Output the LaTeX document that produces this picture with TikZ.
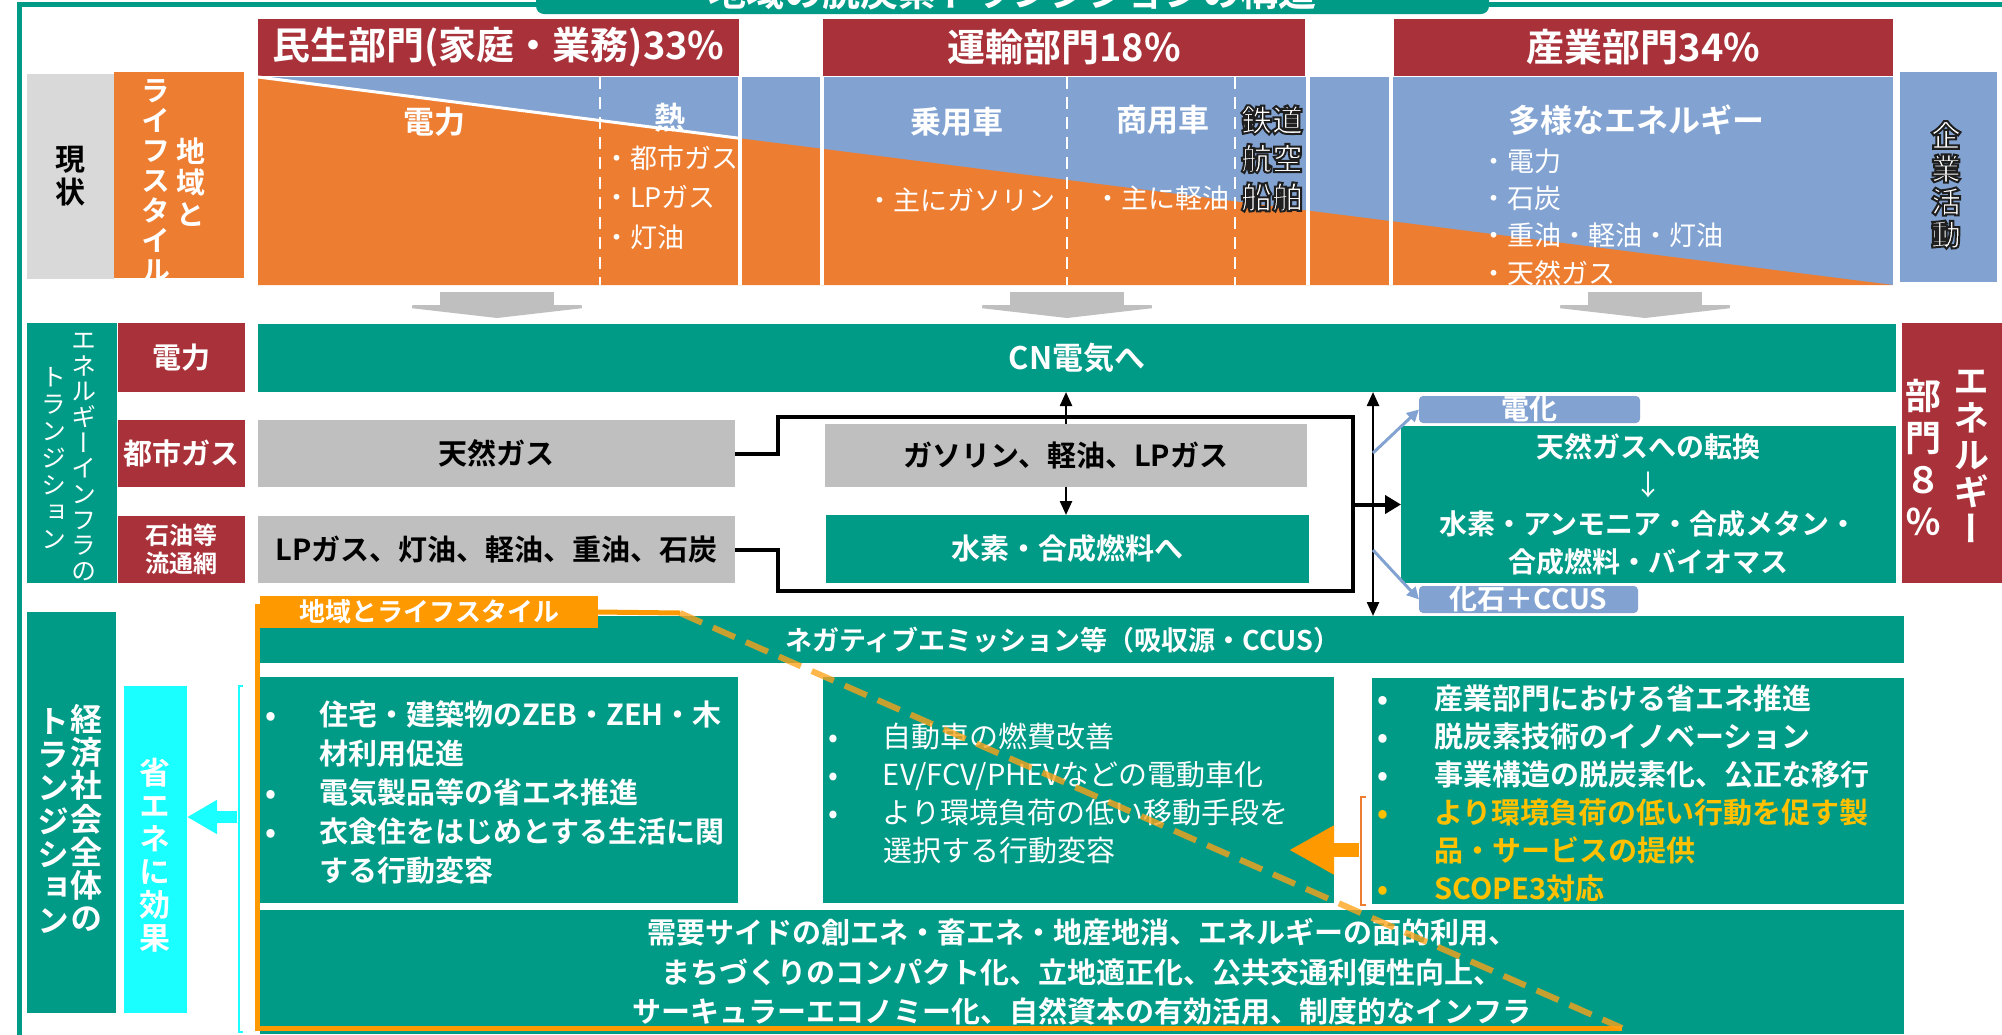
\documentclass[tikz,border=0pt]{standalone}
\usepackage{fontspec}
\setmainfont{Noto Sans CJK JP}[BoldFont={Noto Sans CJK JP Bold}]
\newfontfamily\vjp{Noto Sans CJK JP}[RawFeature={+vert}, BoldFont={Noto Sans CJK JP Bold}]
\usetikzlibrary{arrows.meta}
\definecolor{tealc}{RGB}{0,155,135}
\definecolor{dredc}{RGB}{169,50,58}
\definecolor{orngc}{RGB}{237,125,49}
\definecolor{bluec}{RGB}{130,163,210}
\definecolor{grayc}{RGB}{191,191,191}
\definecolor{lgrayc}{RGB}{217,217,217}
\definecolor{cyanc}{RGB}{26,255,255}
\definecolor{orngb}{RGB}{255,153,0}
\definecolor{yelc}{RGB}{255,192,0}
\definecolor{dashc}{RGB}{255,162,24}
\lineskiplimit=-100pt
\newcommand\fs[2]{\fontsize{#1}{#2}\selectfont}
\newcommand\mybul[1]{\makebox[#1][l]{•}}
\newcommand\mynb[1]{\hspace*{#1}}
\newcommand\ctext[1]{\special{pdf:literal direct 2 Tr 1 w 0.12 0.12 0.12 RG}#1\special{pdf:literal direct 0 Tr}}
\newcommand\bnode[7]{\node[#1,minimum width={(#5-#3)*0.5pt},minimum height={(#6-#4)*0.5pt}] (#2) at ({(#3+#5)/2},{(#4+#6)/2}) {#7};}
\tikzset{
  mybase/.style={inner sep=0pt, outer sep=0pt},
  wt/.style={mybase, text=white},
  vt/.style={wt, align=center},
  hdr/.style={mybase, fill=dredc, text=white, font=\bfseries\fs{19}{21}},
  lgbox/.style={mybase, fill=lgrayc, text=black, align=center, font=\vjp\bfseries\fs{15}{16.5}},
  obox/.style={mybase, fill=orngc},
  bluefill/.style={mybase, fill=bluec},
  tbox/.style={mybase, fill=tealc},
  tboxT/.style={mybase, fill=tealc, text=white, font=\bfseries\fs{14.5}{16}},
  rbox/.style={mybase, fill=dredc, text=white, font=\bfseries\fs{14.5}{16}},
  gbox/.style={mybase, fill=grayc, text=black, font=\bfseries\fs{14.5}{16}},
  bluebox/.style={mybase, fill=bluec, text=white, rounded corners=2pt, font=\bfseries\fs{14}{15}},
  cbox/.style={mybase, fill=cyanc},
  obbox/.style={mybase, fill=orngb, text=white, font=\bfseries\fs{13}{14}},
  garrow/.style={draw=grayc, line width=57pt, -{Triangle[length=6.5pt,width=113pt]}},
  conn/.style={draw=black, line width=2pt},
  thinarr/.style={draw=black, line width=1.2pt},
  barr/.style={draw=bluec, line width=1.5pt, -{Triangle[length=6pt,width=6pt]}},
  hd1/.style={wt, font=\bfseries\fs{15.5}{17}},
  sub/.style={wt, font=\fs{13.5}{15}},
}
\begin{document}
\begin{tikzpicture}[x=0.5pt,y=-0.5pt]
\useasboundingbox (0,0) rectangle (2002,1034);
\clip (0,0) rectangle (2002,1034);
% frame
\draw[tealc, line width=2.5pt] (19,1040) -- (19,4) -- (2010,4);
% title
\node[mybase, fill=tealc, rounded corners=4pt, minimum width=476.5pt, minimum height=22pt, text=white, font=\bfseries\fs{19}{20}] (ttl) at (1012.5,-8) {地域の脱炭素トランジションの構造};
% headers
\bnode{hdr}{h1}{258}{19}{739}{76}{民生部門(家庭・業務)33\%}
\bnode{hdr}{h2}{823}{19}{1305}{76}{運輸部門18\%}
\bnode{hdr}{h3}{1394}{19}{1893}{76}{産業部門34\%}
% row 1 left
\bnode{lgbox}{gen}{27}{74}{114}{279}{現\\状}
\bnode{obox}{ls}{114}{72}{244}{278}{}
\begin{scope}
\clip (114,72) rectangle (244,278);
\node[vt, font=\vjp\bfseries\fs{14.5}{15.75}] (lsA) at (191,182) {地\\域\\と};
\node[vt, font=\vjp\bfseries\fs{14.5}{15}] (lsB) at (156,181) {ラ\\イ\\フ\\ス\\タ\\イ\\ル};
\end{scope}
% wedge
\fill[bluec] (258,77) rectangle (1893,285);
\fill[orngc] (258,77) -- (1893,285) -- (258,285) -- cycle;
\draw[white, line width=1.5pt] (258,77) -- (739,138.2);
\foreach \x in {739.5,822,1307.5,1391} \draw[white, line width=2pt] (\x,77) -- (\x,285);
\foreach \x in {600,1067,1235} \draw[white, line width=1.2pt, dash pattern=on 6pt off 4pt] (\x,77) -- (\x,285);
% row 1 texts
\node[hd1] (t1) at (434,122) {電力};
\node[hd1] (t2) at (670,118) {熱};
\node[sub, anchor=west, align=left, font=\fs{13.5}{19.75}] (t3) at (603,197.5) {・都市ガス\\・LPガス\\・灯油};
\node[hd1] (t4) at (957,122) {乗用車};
\node[sub] (t5) at (961,200) {・主にガソリン};
\node[hd1] (t6) at (1163,120) {商用車};
\node[sub, anchor=west] (t7) at (1094,198) {・主に軽油};
\node[vt, font=\bfseries\fs{15.5}{19.25}] (t8) at (1272,158.5) {\ctext{鉄道}\\\ctext{航空}\\\ctext{船舶}};
\node[wt, font=\bfseries\fs{16}{17}] (t9) at (1636,120) {多様なエネルギー};
\node[sub, anchor=west, align=left, font=\fs{13.5}{18.7}] (t10) at (1480,217) {・電力\\・石炭\\・重油・軽油・灯油\\・天然ガス};
\bnode{bluefill}{kg}{1900}{72}{1997}{282}{}
\node[vt, font=\vjp\bfseries\fs{15}{16.5}] (kgT) at (1946,185) {\ctext{企}\\\ctext{業}\\\ctext{活}\\\ctext{動}};
% gray arrows
\foreach \x [count=\i] in {497,1067,1645} {\coordinate (ga\i) at (\x,292); \coordinate (gb\i) at (\x,318); \draw[garrow] (ga\i) -- (gb\i);}
% row 2
\bnode{tbox}{eit}{27}{323}{117}{583}{}
\node[vt, font=\vjp\fs{12.5}{12.85}] (eitA) at (84,457) {エ\\ネ\\ル\\ギ\\ー\\イ\\ン\\フ\\ラ\\の};
\node[vt, font=\vjp\fs{12.5}{13.5}] (eitB) at (54,458) {ト\\ラ\\ン\\ジ\\シ\\ョ\\ン};
\bnode{rbox}{r1}{118}{323}{245}{392}{電力}
\bnode{rbox}{r2}{118}{420}{245}{487}{都市ガス}
\bnode{rbox, align=center, font=\bfseries\fs{12}{14}}{r3}{118}{516}{245}{583}{石油等\\流通網}
\bnode{tboxT, font=\bfseries\fs{15.5}{17}}{cn}{258}{324}{1896}{392}{CN電気へ}
\bnode{gbox}{ng}{258}{420}{735}{487}{天然ガス}
\bnode{gbox}{lp}{258}{516}{735}{583}{LPガス、灯油、軽油、重油、石炭}
\bnode{gbox}{gas}{825}{424}{1307}{487}{ガソリン、軽油、LPガス}
\bnode{tboxT}{h2}{826}{515}{1309}{583}{水素・合成燃料へ}
\bnode{tboxT, align=center, font=\bfseries\fs{14}{19.2}}{big}{1401}{426}{1896}{583}{天然ガスへの転換\\{\mdseries ↓}\\水素・アンモニア・合成メタン・\\合成燃料・バイオマス}
\bnode{bluebox}{denka}{1419}{396}{1640}{423}{電化}
\bnode{bluebox}{kaseki}{1419}{586}{1638}{613}{化石＋CCUS}
\bnode{rbox}{en8}{1902}{323}{2002}{583}{}
\node[vt, font=\vjp\bfseries\fs{18}{18.5}] (en8A) at (1971,456) {エ\\ネ\\ル\\ギ\\ー};
\node[vt, font=\vjp\bfseries\fs{18}{21}] (en8B) at (1923,457) {部\\門\\８\\％};
% row 3
\bnode{tbox}{ke}{27}{612}{116}{1013}{}
\node[vt, font=\vjp\bfseries\fs{16}{16.6}] (keA) at (86,818) {経\\済\\社\\会\\全\\体\\の};
\node[vt, font=\vjp\bfseries\fs{16}{16.6}] (keB) at (53,821) {ト\\ラ\\ン\\ジ\\シ\\ョ\\ン};
\bnode{cbox}{se}{124}{686}{187}{1013}{}
\node[vt, font=\vjp\bfseries\fs{15.5}{16.5}] (seA) at (155,855) {省\\エ\\ネ\\に\\効\\果};
\bnode{tbox}{neg}{260}{616}{1904}{663}{}
\node[wt, font=\bfseries\fs{13.5}{15}] (negT) at (1063,640) {ネガティブエミッション等（吸収源・CCUS）};
\bnode{tbox}{bL}{260}{677}{738}{903}{}
\node[wt, anchor=west, align=left, font=\bfseries\fs{14.5}{19.4}] (tL) at (265,792.5) {\mybul{27pt}住宅・建築物のZEB・ZEH・木\\\mynb{27pt}材利用促進\\\mybul{27pt}電気製品等の省エネ推進\\\mybul{27pt}衣食住をはじめとする生活に関\\\mynb{27pt}する行動変容};
\bnode{tbox}{bM}{823}{677}{1334}{903}{}
\node[wt, anchor=west, align=left, font=\fs{14.5}{18.9}] (tM) at (828,793.5) {\mybul{27.5pt}自動車の燃費改善\\\mybul{27.5pt}EV/FCV/PHEVなどの電動車化\\\mybul{27.5pt}より環境負荷の低い移動手段を\\\mynb{27.5pt}選択する行動変容};
\bnode{tbox}{bR}{1372}{678}{1904}{904}{}
\node[wt, anchor=west, align=left, font=\bfseries\fs{14.5}{19}] (tR) at (1377,793) {\mybul{28.5pt}産業部門における省エネ推進\\\mybul{28.5pt}脱炭素技術のイノベーション\\\mybul{28.5pt}事業構造の脱炭素化、公正な移行\\{\color{yelc}\mybul{28.5pt}より環境負荷の低い行動を促す製}\\{\color{yelc}\mynb{28.5pt}品・サービスの提供}\\{\color{yelc}\mybul{28.5pt}SCOPE3対応}};
\bnode{tboxT, align=center, font=\bfseries\fs{14.5}{19.75}}{bot}{260}{910}{1904}{1034}{需要サイドの創エネ・畜エネ・地産地消、エネルギーの面的利用、\\まちづくりのコンパクト化、立地適正化、公共交通利便性向上、\\サーキュラーエコノミー化、自然資本の有効活用、制度的なインフラ}
% orange frame and label
\bnode{obbox}{lbl}{260}{596}{598}{628}{地域とライフスタイル}
\coordinate (oc1) at (680,613);
\coordinate (oc2) at (1622,1028);
\coordinate (of1) at (257,604);
\coordinate (of2) at (257,1028);
\draw[orngb, line width=2.5pt] (lbl.east) -- (oc1);
\draw[orngb, line width=2.5pt] (of1) -- (of2) -- (oc2);
% black connectors
\coordinate (cTL) at (778,417);
\coordinate (cTR) at (1353,417);
\coordinate (cBR) at (1353,591);
\coordinate (cBL) at (778,591);
\coordinate (cM) at (1353,504.5);
\coordinate (vx) at (1373,0);
\draw[conn] (ng.east) -| (cTL) -- (cTR) -- (cBR) -- (cBL) |- (lp.east);
\draw[conn, -{Triangle[length=8pt,width=9pt]}] (cM) -- (big.west);
\draw[thinarr, {Triangle[length=7pt,width=6pt]}-{Triangle[length=7pt,width=6pt]}] (vx |- cn.south) -- (vx |- neg.north);
\draw[thinarr, -{Triangle[length=7pt,width=6pt]}] (gas.north) -- (gas.north |- cn.south);
\draw[thinarr, -{Triangle[length=7pt,width=6pt]}] (gas.south) -- (gas.south |- h2.north);
\coordinate (bu) at (1373,453);
\coordinate (bd) at (1373,550);
\draw[barr] (bu) -- (denka.west);
\draw[barr] (bd) -- (kaseki.west);
% cyan arrow and bracket
\coordinate (cy0) at (237,817);
\draw[cyanc, line width=6pt, -{Triangle[length=15pt,width=16pt]}] (cy0) -- (se.east |- cy0);
\draw[cyanc, line width=1pt] (243,686) -- (239,686) -- (239,1032) -- (243,1032);
% orange arrow and bracket
\coordinate (or0) at (1359,850);
\coordinate (or1) at (1289,850);
\draw[orngb, line width=7pt, -{Triangle[length=22.5pt,width=23pt]}] (or0) -- (or1);
\draw[orngc, line width=1pt] (1366,797) -- (1361,797) -- (1361,905) -- (1366,905);
% dashed diagonal
\draw[dashc, opacity=0.78, line width=3pt, dash pattern=on 12pt off 6pt] (oc1) -- (oc2);
\end{tikzpicture}
\end{document}
